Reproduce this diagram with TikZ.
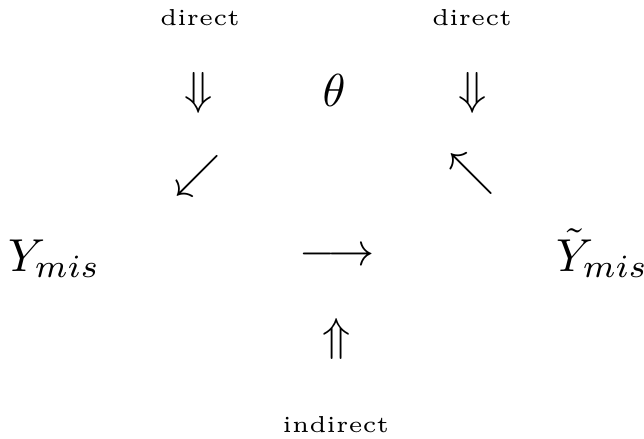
\documentclass[tikz,border=0pt]{standalone}
\begin{document}
\begin{tikzpicture}[x=0.2165pt,y=-0.2165pt,
  sym/.style={inner sep=0pt,outer sep=0pt},
  lbl/.style={inner sep=0pt,outer sep=0pt,font=\tiny}]
\useasboundingbox (0,0) rectangle (644,438);
\node[lbl] (d1) at (200,18) {direct};
\node[lbl] (d2) at (472,18) {direct};
\node[sym] (a1) at (199,93) {$\Downarrow$};
\node[sym] (th) at (334,90) {$\theta$};
\node[sym] (a2) at (473,93) {$\Downarrow$};
\node[sym] (sw) at (198,176) {$\swarrow$};
\node[sym] (nw) at (472,174) {$\nwarrow$};
\node[sym,anchor=base west] (ym) at (8,271) {$Y_{mis}$};
\node[sym] (lr) at (337,257) {$\longrightarrow$};
\node[sym,anchor=base west] (yt) at (556,271) {$\tilde{Y}_{mis}$};
\node[sym] (up) at (337,339) {$\Uparrow$};
\node[lbl] (ind) at (336,425) {indirect};
\end{tikzpicture}
\end{document}
